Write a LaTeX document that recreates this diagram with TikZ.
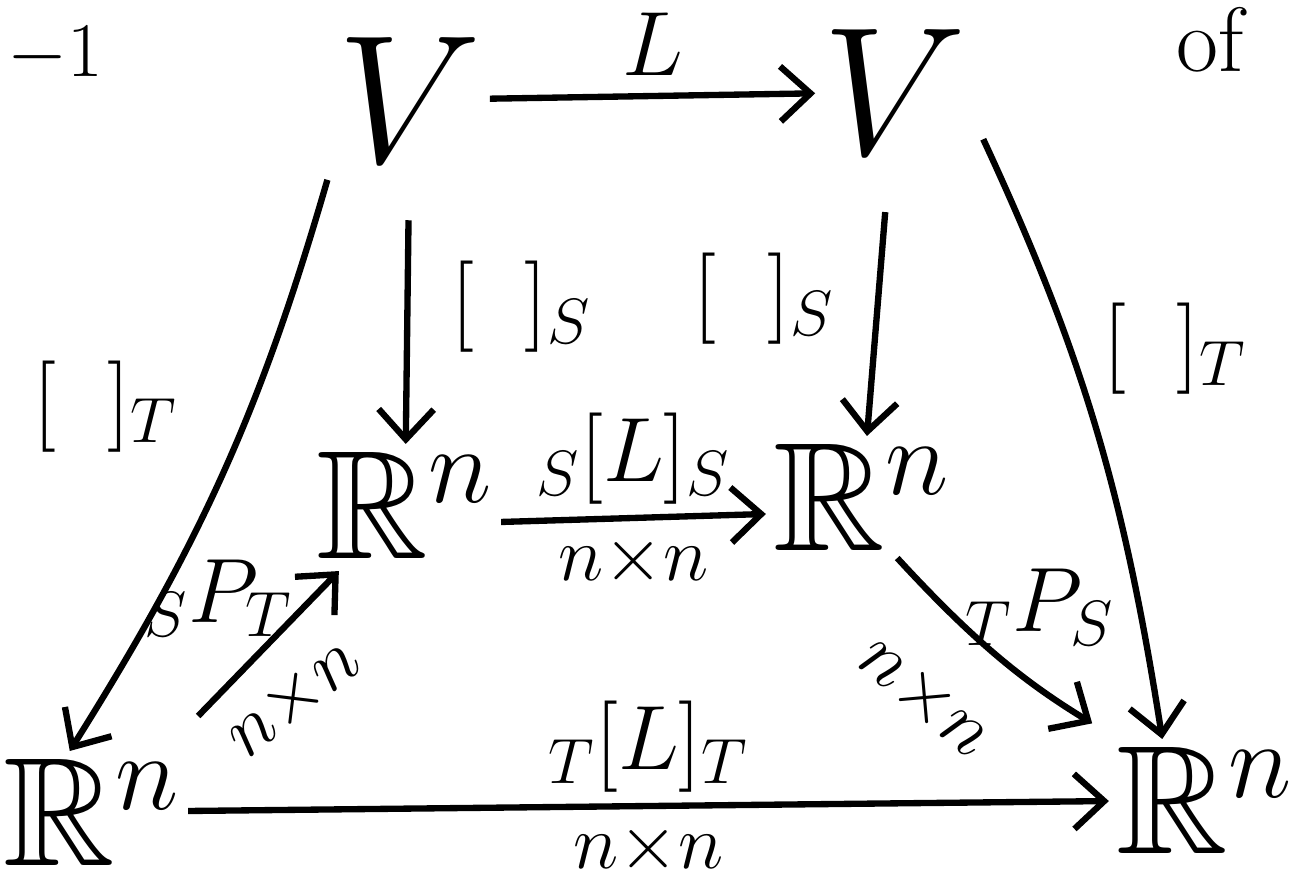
\RequirePackage{fix-cm}
\documentclass[tikz,border=0pt]{standalone}
\usepackage{amsmath}
\usepackage{amssymb}
\usetikzlibrary{arrows.meta, positioning}

\begin{document}
\begin{tikzpicture}[
  x=0.01cm, y=-0.01cm,
  space/.style={font=\fontsize{44}{48}\selectfont, inner sep=2pt},
  lab/.style={font=\fontsize{26}{30}\selectfont, inner sep=3pt},
  dim/.style={font=\fontsize{22}{26}\selectfont, inner sep=2pt},
  arr/.style={-{Straight Barb[length=3mm,width=5.5mm]}, line width=1.8pt}
]
\useasboundingbox (0,0) rectangle (1294,890);

% Spaces
\node[space, font=\fontsize{52}{56}\selectfont] (Vl) at (410,100) {$V$};
\node[space, font=\fontsize{52}{56}\selectfont] (Vr) at (895,92) {$V$};
\node[space] (Rml) at (405,505) {$\mathbb{R}^n$};
\node[space] (Rmr) at (862,497) {$\mathbb{R}^n$};
\node[space] (Rbl) at (92,812) {$\mathbb{R}^n$};
\node[space] (Rbr) at (1205,800) {$\mathbb{R}^n$};

% Leftovers at the edges
\node[dim] (minusone) at (55,55) {$-1$};
\node[lab] (of) at (1210,40) {of};

% Top row
\draw[arr] (Vl) -- (Vr) node[lab, midway, above=2pt] {$L$};

% Coordinate maps
\draw[arr, shorten <=5mm] (Vl) -- (Rml)
  node[lab, midway, right=3mm] {$[\;\;]_S$};
\draw[arr, shorten <=5mm] (Vr) -- (Rmr)
  node[lab, midway, left=3mm] {$[\;\;]_S$};
\draw[arr, shorten <=1mm] (Vl.south west) to[bend left=8]
  node[lab, pos=0.38, left=6mm] {$[\;\;]_T$} (Rbl.110);
\draw[arr, shorten <=2mm] (Vr.-20) to[bend left=8]
  node[lab, pos=0.37, right=2mm] {$[\;\;]_T$} (Rbr.125);

% Matrices
\draw[arr] (Rml.-10) -- (Rmr.190)
  node[lab, midway, above] {${}_S[L]_S$}
  node[dim, midway, below=2pt] {$n{\times}n$};
\draw[arr] ([shift={(10,-35)}]Rbl.north east) -- ([shift={(30,5)}]Rml.south west)
  node[lab, midway, xshift=-0.5cm, yshift=0.45cm] {${}_SP_T$}
  node[dim, midway, xshift=0.25cm, yshift=-0.55cm, rotate=38] {$n{\times}n$};
\draw[arr, shorten >=3mm] (Rmr.-60) to[bend right=8]
  node[lab, midway, xshift=0.4cm, yshift=0.5cm] {${}_TP_S$}
  node[dim, midway, xshift=-0.75cm, yshift=-0.4cm, rotate=-40] {$n{\times}n$} (Rbr.145);
\draw[arr] (Rbl) -- (Rbr)
  node[lab, midway, above] {${}_T[L]_T$}
  node[dim, midway, below=2pt] {$n{\times}n$};

\end{tikzpicture}
\end{document}
